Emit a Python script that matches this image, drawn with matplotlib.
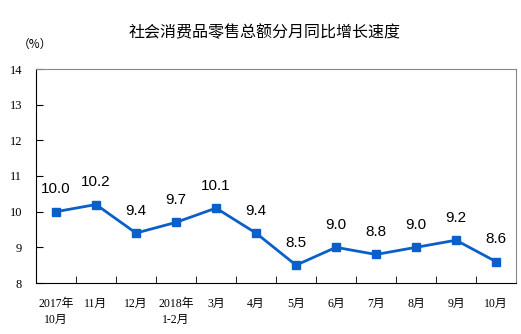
import numpy as np
import matplotlib.pyplot as plt
from matplotlib.ticker import FixedLocator

plt.rcParams['font.family'] = ['Liberation Serif', 'Noto Sans CJK SC']

months = ['2017年\n10月', '11月', '12月', '2018年\n1-2月', '3月', '4月',
          '5月', '6月', '7月', '8月', '9月', '10月']
growth = [10.0, 10.2, 9.4, 9.7, 10.1, 9.4, 8.5, 9.0, 8.8, 9.0, 9.2, 8.6]
yticks = [8, 9, 10, 11, 12, 13, 14]

fig = plt.figure(figsize=(5.21, 3.34), dpi=100)
ax = fig.add_axes([36/521, 1-283/334, 480/521, 214/334])

x = np.arange(len(growth))
ax.plot(x, growth, color='#0A5FC8', lw=2, marker='s', ms=5.5)
for xi, v in zip(x, growth):
    ax.annotate('%.1f' % v, (xi, v), xytext=(0, 11), textcoords='offset points',
                ha='center', va='bottom', fontsize=11, family='Liberation Sans')

ax.set_xlim(-0.5, 11.5)
ax.set_ylim(8, 14)
ax.set_yticks(yticks)
ax.set_xticks(x)
ax.set_xticklabels(months, fontsize=8.5, linespacing=1.4)
ax.xaxis.set_minor_locator(FixedLocator(np.arange(0.5, 11.5, 1)))
ax.tick_params(axis='x', which='major', length=0, pad=11)
ax.tick_params(axis='x', which='minor', direction='in', length=5, color='black')
ax.tick_params(axis='y', direction='in', length=5, labelsize=9, pad=10)
for lab in ax.get_xticklabels():
    lab.set_verticalalignment('top')

for s in ['top', 'right']:
    ax.spines[s].set_color('#888888')
for s in ['left', 'bottom']:
    ax.spines[s].set_color('black')

fig.text(265/521, 1-33/334, '社会消费品零售总额分月同比增长速度', ha='center', va='center',
         fontsize=11.5, family='Noto Sans CJK SC')
fig.text(35/521, 1-44/334, '（%）', ha='center', va='center', fontsize=8.5,
         family='Noto Sans CJK SC')

fig.savefig('out.png', dpi=100)
